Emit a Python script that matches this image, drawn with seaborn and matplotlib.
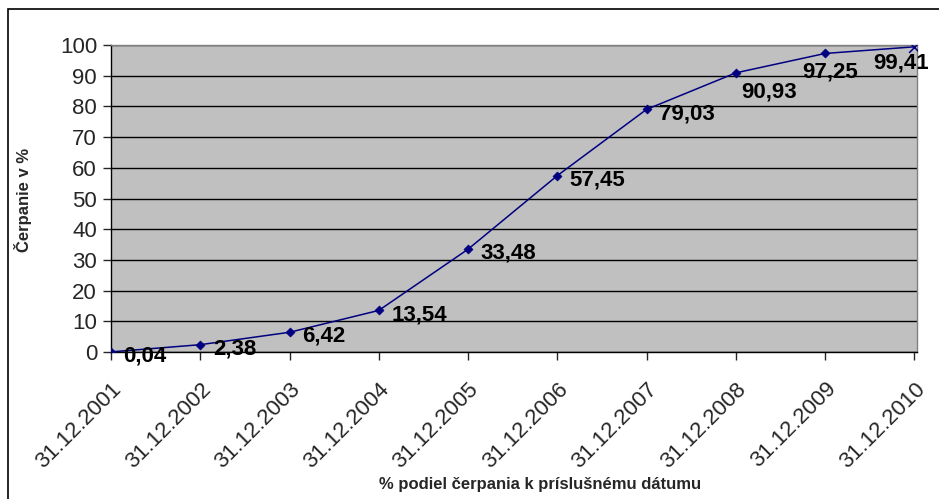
import matplotlib
matplotlib.use('Agg')
import matplotlib.pyplot as plt
import seaborn as sns
import pandas as pd
from matplotlib.patches import Rectangle

# Data
datumy = ['31.12.2001', '31.12.2002', '31.12.2003', '31.12.2004', '31.12.2005',
          '31.12.2006', '31.12.2007', '31.12.2008', '31.12.2009', '31.12.2010']
cerpanie = [0.04, 2.38, 6.42, 13.54, 33.48, 57.45, 79.03, 90.93, 97.25, 99.41]
popisky = ['0,04', '2,38', '6,42', '13,54', '33,48', '57,45', '79,03', '90,93', '97,25', '99,41']

sns.set_theme(style='white')
plt.rcParams['font.family'] = ['Liberation Sans', 'DejaVu Sans']

df = pd.DataFrame({'poz': range(len(datumy)), 'datum': datumy, 'hodnota': cerpanie})

fig = plt.figure(figsize=(9.39, 4.99), dpi=100)
ax = fig.add_axes([0.1182, 0.2946, 0.8584, 0.6152])
ax.set_facecolor('#c0c0c0')

# Vonkajsi ramik grafu
fig.patches.append(Rectangle((8 / 939, -0.05), 1.0, 1 - 9 / 499 + 0.05,
                             transform=fig.transFigure, fill=False,
                             edgecolor='black', linewidth=1.2))

sns.lineplot(data=df, x='poz', y='hodnota', color='#000080', linewidth=1.1, ax=ax, sort=False)
sns.scatterplot(data=df.iloc[:-1], x='poz', y='hodnota', marker='D', s=22,
                color='#000080', edgecolor='#000080', ax=ax, zorder=4)
sns.scatterplot(data=df.iloc[-1:], x='poz', y='hodnota', marker='x', s=60,
                color='#000080', linewidth=1.1, ax=ax, zorder=4)

# Popisky hodnot (posun v bodoch)
posuny = [(9, -3)] * 7 + [(4, -14), (-16.5, -13.5), (-29.5, -11.5)]
for i, (txt, off) in enumerate(zip(popisky, posuny)):
    ax.annotate(txt, (i, cerpanie[i]), xytext=off, textcoords='offset points',
                ha='left', va='center', fontsize=16, fontweight='bold', color='black')

ax.set_xlim(0, 9.03)
ax.set_ylim(0, 100)
ax.set_yticks(range(0, 101, 10))
ax.set_xticks(range(len(datumy)))
ax.set_xticklabels(datumy, rotation=45, ha='right', va='top', rotation_mode='anchor', fontsize=16)
ax.tick_params(axis='y', labelsize=16, length=6, width=1, direction='out', left=True, pad=4)
ax.tick_params(axis='x', length=6, width=1, direction='out', bottom=True, pad=13)

ax.yaxis.grid(True, color='black', linewidth=1)
ax.set_axisbelow(True)

for s in ['top', 'right']:
    ax.spines[s].set_color('#808080')
    ax.spines[s].set_linewidth(1)
for s in ['left', 'bottom']:
    ax.spines[s].set_color('black')
    ax.spines[s].set_linewidth(1)

ax.set_xlabel('')
ax.set_ylabel('')
fig.text(0.575, 0.030, '% podiel čerpania k príslušnému dátumu', ha='center', va='center',
         fontsize=12, fontweight='bold')
fig.text(0.024, 0.60, 'Čerpanie v %', ha='center', va='center', rotation=90,
         fontsize=12, fontweight='bold')

fig.savefig('out.png', dpi=100)
